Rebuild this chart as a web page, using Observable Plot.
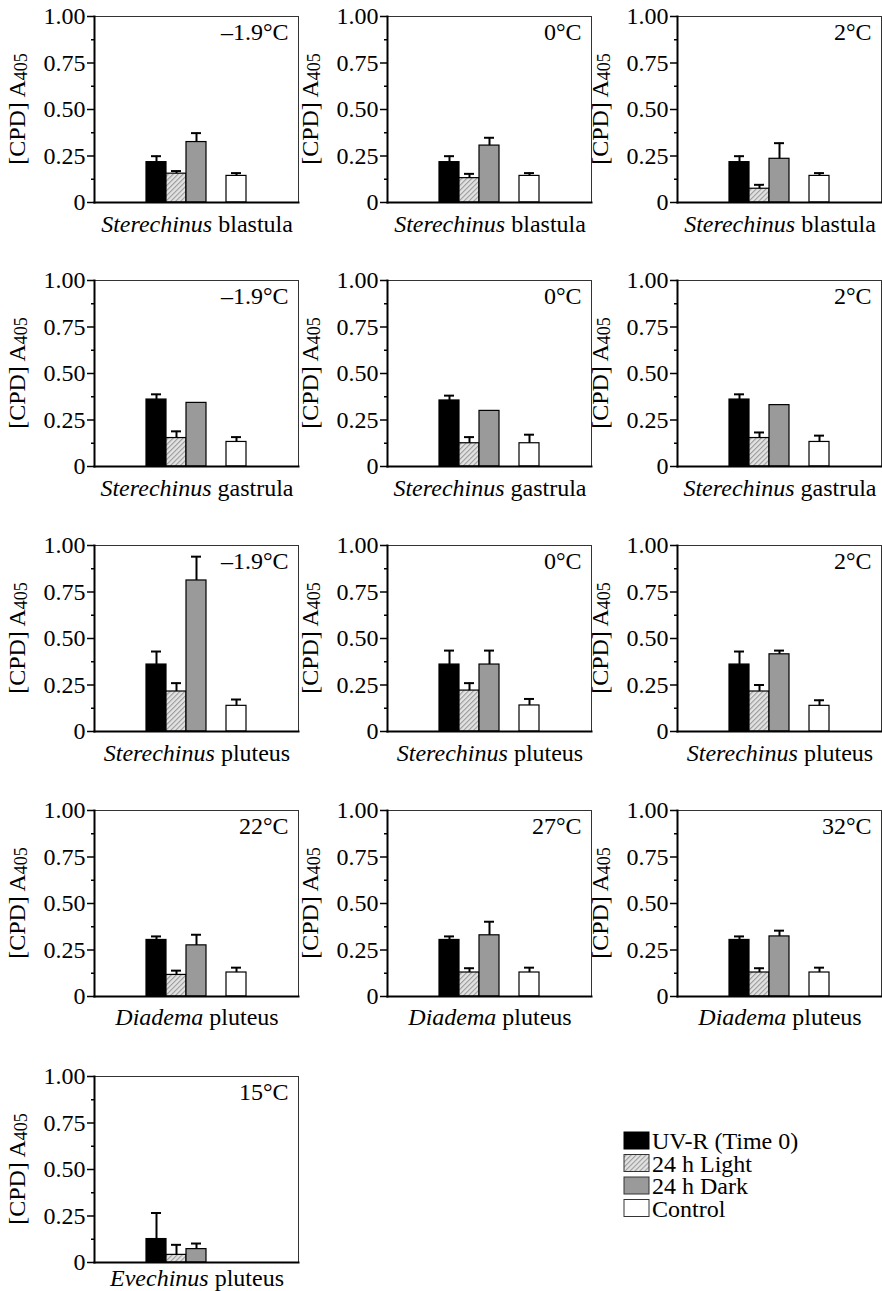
<!DOCTYPE html>
<html><head><meta charset="utf-8">
<script src="https://cdn.jsdelivr.net/npm/d3@7"></script>
<script src="https://cdn.jsdelivr.net/npm/@observablehq/plot@0.6"></script>
<style>
body{margin:0;background:#fff;font-family:"Liberation Serif",serif;}
#root{position:relative;width:882px;height:1291px;}
#root svg.panel{position:absolute;}
</style></head><body>
<div id="root"></div>
<script>
// ---- data ----
const treatments = ["UV-R (Time 0)", "24 h Light", "24 h Dark", "Control"];
const panelGenus = ["Sterechinus","Sterechinus","Sterechinus","Sterechinus","Sterechinus","Sterechinus",
                    "Sterechinus","Sterechinus","Sterechinus","Diadema","Diadema","Diadema","Evechinus"];
const panelStage = ["blastula","blastula","blastula","gastrula","gastrula","gastrula",
                    "pluteus","pluteus","pluteus","pluteus","pluteus","pluteus","pluteus"];
const panelTemp = ["–1.9°C","0°C","2°C","–1.9°C","0°C","2°C","–1.9°C","0°C","2°C","22°C","27°C","32°C","15°C"];
const uvMean      = [0.217,0.217,0.217, 0.360,0.355,0.360, 0.360,0.360,0.360, 0.304,0.304,0.304, 0.126];
const uvErr       = [0.032,0.032,0.032, 0.028,0.026,0.028, 0.070,0.075,0.070, 0.019,0.019,0.019, 0.140];
const lightMean   = [0.155,0.131,0.074, 0.153,0.125,0.153, 0.215,0.220,0.215, 0.116,0.129,0.129, 0.041];
const lightErr    = [0.014,0.023,0.021, 0.036,0.033,0.030, 0.045,0.040,0.035, 0.023,0.023,0.023, 0.054];
const darkMean    = [0.325,0.306,0.235, 0.342,0.299,0.330, 0.812,0.360,0.415, 0.275,0.329,0.323, 0.072];
const darkErr     = [0.048,0.042,0.084, null,null,null,   0.128,0.075,0.020, 0.057,0.073,0.031, 0.030];
const controlMean = [0.143,0.143,0.143, 0.132,0.125,0.132, 0.138,0.140,0.138, 0.129,0.129,0.129, null];
const controlErr  = [0.015,0.015,0.015, 0.026,0.046,0.034, 0.034,0.035,0.030, 0.026,0.026,0.026, null];
const yTicks = [0, 0.25, 0.5, 0.75, 1];
const yMinorTicks = [0.125, 0.375, 0.625, 0.875];

// ---- layout & style ----
const FONT = "Liberation Serif";
const FS = 24;
const panelRow = [0,0,0,1,1,1,2,2,2,3,3,3,4];
const panelCol = [0,1,2,0,1,2,0,1,2,0,1,2,0];
const colLeft = [0, 293, 583];
const rowTop = [0, 264, 529, 794, 1060];
const labelDy = [30, 30, 30, 29, 24];
const W = 300, H = 240, ML = 94, MR = 2, MT = 16, MB = 38;
const slots = [treatments[0], treatments[1], treatments[2], "", treatments[3]];

const root = document.getElementById("root");
const means = [uvMean, lightMean, darkMean, controlMean];
const errs = [uvErr, lightErr, darkErr, controlErr];
const fmt = d => d === 0 ? "0" : d3.format(".2f")(d);

function addHatch(svgSel, id) {
  const p = svgSel.insert("defs", ":first-child").append("pattern")
    .attr("id", id).attr("patternUnits", "userSpaceOnUse")
    .attr("width", 3.5).attr("height", 3.5).attr("patternTransform", "rotate(45)");
  p.append("rect").attr("width", 3.5).attr("height", 3.5).attr("fill", "#e4e4e4");
  p.append("line").attr("x1", 0.6).attr("y1", 0).attr("x2", 0.6).attr("y2", 3.5)
    .attr("stroke", "#9a9a9a").attr("stroke-width", 1.1);
}
function setFont(svgSel) {
  svgSel.attr("font-family", FONT).style("font-family", FONT);
  svgSel.selectAll("text, tspan, g").attr("font-family", FONT);
}

panelGenus.forEach((genus, i) => {
  const rows = treatments.map((t, k) => ({treatment: t, value: means[k][i], err: errs[k][i]}))
                         .filter(d => d.value != null);
  const withErr = rows.filter(d => d.err != null);
  const hatchId = "hatch" + i;
  const svg = Plot.plot({
    width: W, height: H, marginLeft: ML, marginRight: MR, marginTop: MT, marginBottom: MB,
    style: {fontFamily: FONT, fontSize: FS + "px"},
    x: {type: "band", domain: slots, paddingInner: 0, paddingOuter: 2.45, axis: null},
    y: {domain: [0, 1]},
    color: {type: "ordinal", domain: treatments, range: ["black", `url(#${hatchId})`, "#9a9a9a", "white"]},
    marks: [
      Plot.frame({stroke: "#333", strokeWidth: 1}),
      Plot.barY(rows, {x: "treatment", y: "value", fill: "treatment", stroke: "black", strokeWidth: 1.2}),
      Plot.ruleX(withErr, {x: "treatment", y1: "value", y2: d => d.value + d.err, strokeWidth: 2}),
      Plot.tickY(withErr, {x: "treatment", y: d => d.value + d.err, strokeWidth: 2, insetLeft: 5, insetRight: 5}),
      Plot.axisY({ticks: yTicks, tickSize: 7, tickPadding: 2, tickFormat: fmt, fontSize: FS, fontFamily: FONT, label: null, strokeWidth: 1.5}),
      Plot.axisY({ticks: yMinorTicks, tickSize: 3, tickFormat: () => "", label: null, strokeWidth: 1.5}),
      Plot.frame({anchor: "left", strokeWidth: 2}),
      Plot.frame({anchor: "bottom", strokeWidth: 2}),
      Plot.text([panelTemp[i]], {frameAnchor: "top-right", dx: -10, dy: 6, fontSize: FS, fontFamily: FONT})
    ]
  });
  svg.classList.add("panel");
  svg.style.left = colLeft[panelCol[i]] + "px";
  svg.style.top = rowTop[panelRow[i]] + "px";
  const s = d3.select(svg);
  addHatch(s, hatchId);
  const cy = MT + (H - MT - MB) / 2;
  const yl = s.append("text")
    .attr("transform", `translate(25,${cy}) rotate(-90)`)
    .attr("text-anchor", "middle").attr("font-size", FS).attr("fill", "black");
  yl.append("tspan").text("[CPD] A");
  yl.append("tspan").attr("font-size", 18).attr("dy", 2).text("405");
  const xl = s.append("text")
    .attr("x", ML + (W - ML - MR) / 2 + 1).attr("y", H - MB + labelDy[panelRow[i]])
    .attr("text-anchor", "middle").attr("font-size", FS).attr("fill", "black");
  xl.append("tspan").attr("font-style", "italic").text(genus);
  xl.append("tspan").text(" " + panelStage[i]);
  setFont(s);
  root.appendChild(svg);
});

// ---- legend ----
const lg = d3.select(root).append("svg").attr("class", "panel")
  .attr("width", 240).attr("height", 100)
  .style("left", "620px").style("top", "1128px");
addHatch(lg, "hatchLegend");
const legendFills = ["black", "url(#hatchLegend)", "#9a9a9a", "white"];
treatments.forEach((t, k) => {
  const g = lg.append("g").attr("transform", `translate(0,${k * 22.5})`);
  g.append("rect").attr("x", 4).attr("y", 4).attr("width", 25).attr("height", 17)
    .attr("fill", legendFills[k]).attr("stroke", k === 0 ? "black" : "#333").attr("stroke-width", 1);
  g.append("text").attr("x", 32).attr("y", 21).attr("font-size", FS).attr("fill", "black").text(t);
});
setFont(lg);
</script>
</body></html>
